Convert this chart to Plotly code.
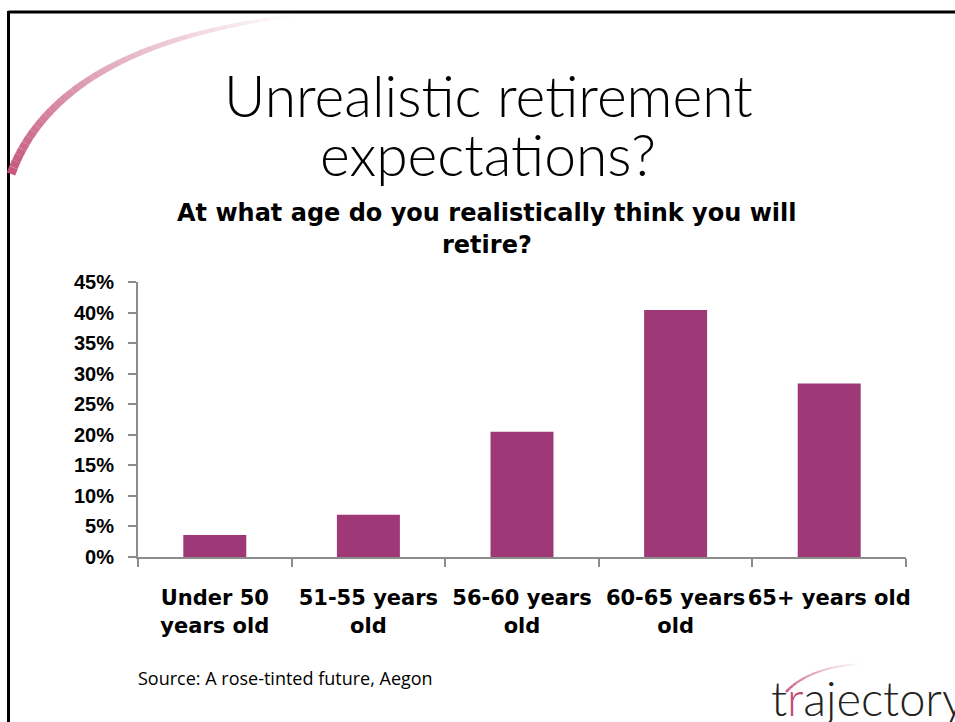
import plotly.graph_objects as go

# ---- data ----
categories = ["Under 50<br>years old", "51-55 years<br>old", "56-60 years<br>old",
              "60-65 years<br>old", "65+ years old"]
values = [3.6, 6.9, 20.5, 40.4, 28.4]
y_ticks = [0, 5, 10, 15, 20, 25, 30, 35, 40, 45]
y_tick_labels = [f"{v}%" for v in y_ticks]

OFF = 0  # page body margin (removed via post_script)
W, H = 955 - OFF, 722 - OFF
L, T = 138 - OFF, 282 - OFF
R = W - (906 - OFF)
B = H - (557 - OFF)
PW, PH = W - L - R, H - T - B

def px2paper(x, y):
    # x, y are screen pixels as seen in the reference
    x -= OFF
    y -= OFF
    return (x - L) / PW, (H - B - y) / PH

fig = go.Figure()
fig.add_trace(go.Bar(x=categories, y=values, marker=dict(color="#9e3877", line=dict(width=0)),
                     hoverinfo="skip"))

axis_col = "#8c8c8c"
fig.update_layout(
    width=W, height=H,
    margin=dict(l=L, r=R, t=T, b=B, autoexpand=False),
    paper_bgcolor="white", plot_bgcolor="white",
    bargap=0.59, showlegend=False,
    xaxis=dict(type="category", showline=True, linecolor=axis_col, linewidth=2,
               ticks="outside", tickson="boundaries", ticklen=8, tickwidth=2, tickcolor=axis_col,
               showgrid=False, zeroline=False, ticklabelstandoff=21, tickangle=0,
               automargin=False,
               tickfont=dict(family="DejaVu Sans", size=21, color="black", weight="bold")),
    yaxis=dict(range=[0, 45], tickvals=y_ticks, ticktext=y_tick_labels, showline=True,
               linecolor=axis_col, linewidth=2, ticks="outside", ticklen=8, tickwidth=2,
               tickcolor=axis_col, showgrid=False, zeroline=False, ticklabelstandoff=10,
               automargin=False,
               tickfont=dict(family="Liberation Sans", size=20, color="black", weight="bold")),
)

def ann(text, x, y, size, family, color="black", weight="normal", xanchor="center"):
    xp, yp = px2paper(x, y)
    fig.add_annotation(text=text, x=xp, y=yp, xref="paper", yref="paper", showarrow=False,
                       xanchor=xanchor, yanchor="middle",
                       font=dict(family=family, size=size, color=color, weight=weight))

# Titles
ann("Unrealistic retirement", 488, 95, 57, "Lato", weight=300)
ann("expectations?", 488, 154, 57, "Lato", weight=300)
ann("At what age do you realistically think you will", 487, 213, 24, "DejaVu Sans", weight="bold")
ann("retire?", 487, 245, 24, "DejaVu Sans", weight="bold")
ann("Source: A rose-tinted future, Aegon", 136, 678, 18, "Open Sans", xanchor="left")
ann("t<span style='color:#c0506e'>r</span>ajectory", 769, 698, 47, "Lato", color="#222222",
    weight=300, xanchor="left")

# Frame
shapes = []
x0, y0 = px2paper(8.5, 12)
x1, y1 = px2paper(958, 12)
shapes.append(dict(type="line", xref="paper", yref="paper", x0=x0, y0=y0, x1=x1, y1=y1,
                   line=dict(color="black", width=3)))
x0, y0 = px2paper(8.5, 11)
x1, y1 = px2paper(8.5, 726)
shapes.append(dict(type="line", xref="paper", yref="paper", x0=x0, y0=y0, x1=x1, y1=y1,
                   line=dict(color="black", width=3)))

# Decorative fading arcs
def arc(p0, c, p2, n, w0, w1, rgb, a0, a1):
    pts = []
    for i in range(n + 1):
        t = i / n
        x = (1 - t) ** 2 * p0[0] + 2 * t * (1 - t) * c[0] + t ** 2 * p2[0]
        y = (1 - t) ** 2 * p0[1] + 2 * t * (1 - t) * c[1] + t ** 2 * p2[1]
        pts.append((x, y))
    for i in range(n):
        t = i / n
        xa, ya = px2paper(*pts[i])
        xb, yb = px2paper(*pts[i + 1])
        a = a0 + (a1 - a0) * t
        w = w0 + (w1 - w0) * t
        shapes.append(dict(type="line", xref="paper", yref="paper", x0=xa, y0=ya, x1=xb, y1=yb,
                           line=dict(color=f"rgba({rgb},{a:.3f})", width=w)))

arc((11, 174), (58, 45), (292, 16), 40, 9, 3, "196,80,120", 0.95, 0.0)
arc((786, 692), (808, 668), (858, 664), 14, 2.5, 1.5, "196,80,120", 0.9, 0.0)

fig.update_layout(shapes=shapes)
fig.write_html("out.html", config={"displayModeBar": False},
               post_script="document.body.style.margin='0';document.body.style.overflow='hidden';")
